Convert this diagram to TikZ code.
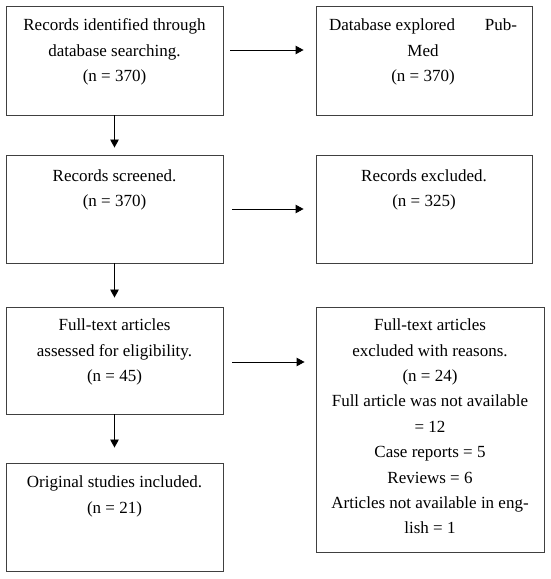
\documentclass[tikz,border=0pt]{standalone}
\usepackage{fontspec}
\setmainfont{Liberation Serif}
\usetikzlibrary{arrows.meta}
\begin{document}
\begin{tikzpicture}[x=1pt,y=1pt,
  box/.style={draw=black!75, line width=0.9pt, inner sep=0pt, fill=white},
  txt/.style={anchor=north, inner sep=0pt, align=center, font=\fontsize{17}{25.4}\selectfont},
  arr/.style={line width=0.9pt, -{Triangle[length=8pt,width=8.5pt]}}]
\useasboundingbox (0,0) rectangle (550,579);
% boxes
\node[box, minimum width=217pt, minimum height=109pt] (b1) at (114.5,518.5) {};
\node[box, minimum width=217pt, minimum height=108pt] (b2) at (114.5,370) {};
\node[box, minimum width=217pt, minimum height=107pt] (b3) at (114.5,218.5) {};
\node[box, minimum width=217pt, minimum height=108pt] (b4) at (114.5,62) {};
\node[box, minimum width=216pt, minimum height=109pt] (r1) at (424,518.5) {};
\node[box, minimum width=216pt, minimum height=108pt] (r2) at (424,370) {};
\node[box, minimum width=228pt, minimum height=245pt] (r3) at (430,149.5) {};
% texts
\node[txt] (t1) at ([yshift=-13pt]b1.north) {\rule{0pt}{12pt}Records identified through\\database searching.\\(n = 370)};
\node[txt] (t2) at ([yshift=-14.5pt]b2.north) {\rule{0pt}{12pt}Records screened.\\(n = 370)};
\node[txt] (t3) at ([yshift=-12pt]b3.north) {\rule{0pt}{12pt}Full-text articles\\assessed for eligibility.\\(n = 45)};
\node[txt] (t4) at ([yshift=-13pt]b4.north) {\rule{0pt}{12pt}Original studies included.\\(n = 21)};
\node[txt] (u1) at ([yshift=-13pt,xshift=-1pt]r1.north) {\rule{0pt}{12pt}\makebox[188pt]{Database explored\hfill Pub-}\\Med\\(n = 370)};
\node[txt] (u2) at ([yshift=-14.5pt]r2.north) {\rule{0pt}{12pt}Records excluded.\\(n = 325)};
\node[txt] (u3) at ([yshift=-12pt]r3.north) {\rule{0pt}{12pt}Full-text articles\\excluded with reasons.\\(n = 24)\\Full article was not available\\= 12\\Case reports = 5\\Reviews = 6\\Articles not available in eng-\\lish = 1};
% horizontal arrows
\draw[arr] ([xshift=7pt]b1.east |- 0,529) -- ([xshift=-12pt]r1.west |- 0,529);
\draw[arr] ([xshift=9pt]b2.east |- 0,370) -- ([xshift=-12pt]r2.west |- 0,370);
\draw[arr] ([xshift=9pt]b3.east |- 0,217) -- ([xshift=-11pt]r3.west |- 0,217);
% vertical arrows
\draw[arr] (b1.south) -- ([yshift=7pt]b2.north);
\draw[arr] (b2.south) -- ([yshift=9pt]b3.north);
\draw[arr] (b3.south) -- ([yshift=15pt]b4.north);
\end{tikzpicture}
\end{document}
